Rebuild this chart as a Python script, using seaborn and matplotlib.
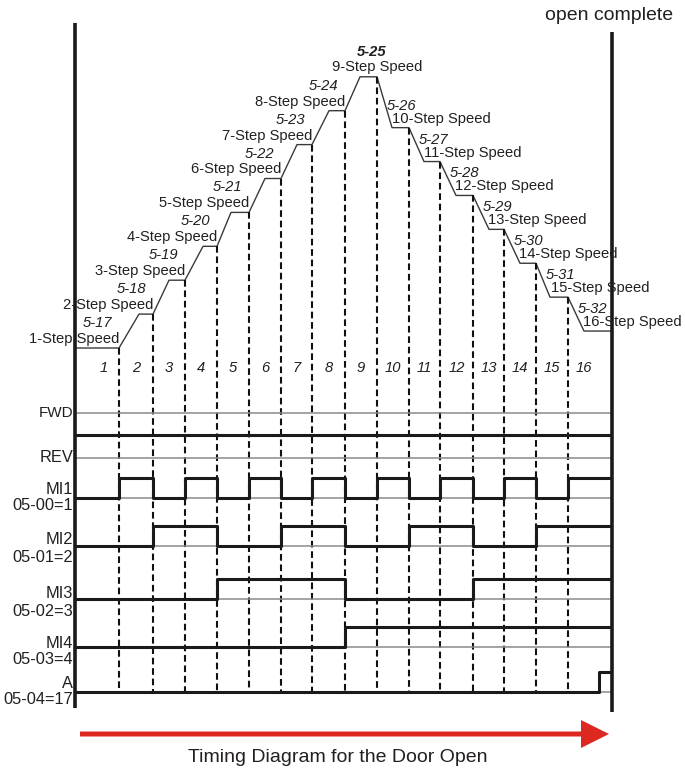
"""
Multi-step speed timing diagram (door open)
"""

import numpy as np
import pandas as pd
import matplotlib.pyplot as plt
import seaborn as sns
from matplotlib.patches import FancyArrow

# ============================================================================
# DATA
# ============================================================================

step_no = [1, 2, 3, 4, 5, 6, 7, 8, 9, 10, 11, 12, 13, 14, 15, 16]
step_time = [44, 34, 32, 32, 32, 32, 31, 33, 32, 32, 31, 33, 31, 32, 32, 44]
ramp_time = [0, 20, 16, 18, 14, 16, 16, 17, 15, 15, 15, 16, 16, 16, 14, 16]
step_speed = [1, 2, 3, 4, 5, 6, 7, 8, 9, 7.5, 6.5, 5.5, 4.5, 3.5, 2.5, 1.5]

param_codes = ['5-17', '5-18', '5-19', '5-20', '5-21', '5-22', '5-23', '5-24',
               '5-25', '5-26', '5-27', '5-28', '5-29', '5-30', '5-31', '5-32']
speed_names = ['1-Step Speed', '2-Step Speed', '3-Step Speed', '4-Step Speed',
               '5-Step Speed', '6-Step Speed', '7-Step Speed', '8-Step Speed',
               '9-Step Speed', '10-Step Speed', '11-Step Speed', '12-Step Speed',
               '13-Step Speed', '14-Step Speed', '15-Step Speed', '16-Step Speed']

mi1 = [0, 1, 0, 1, 0, 1, 0, 1, 0, 1, 0, 1, 0, 1, 0, 1]
mi2 = [0, 0, 1, 1, 0, 0, 1, 1, 0, 0, 1, 1, 0, 0, 1, 1]
mi3 = [0, 0, 0, 0, 1, 1, 1, 1, 0, 0, 0, 0, 1, 1, 1, 1]
mi4 = [0, 0, 0, 0, 0, 0, 0, 0, 1, 1, 1, 1, 1, 1, 1, 1]
a_time = [0, 524, 537]
a_state = [0, 1, 1]

row_names = ['MI1', 'MI2', 'MI3', 'MI4', 'A']
row_codes = ['05-00=1', '05-01=2', '05-02=3', '05-03=4', '05-04=17']

# ============================================================================
# LAYOUT
# ============================================================================

sns.set_theme(style='white')
plt.rcParams['font.family'] = ['Liberation Sans', 'DejaVu Sans']

TXT = '#231f20'
LINE = '#1a1a1a'
GREY = '#8a8a8a'
RED = '#dc2820'
FS = 10.6
FS_ROW = 11.8


def lvl(s):
    # speed value -> vertical position
    return 348 - (s - 1) * 33.9


bounds = np.concatenate([[0], np.cumsum(step_time)])
t_end = bounds[-1]

fig = plt.figure(figsize=(6.85, 7.68), dpi=100)
ax = fig.add_axes([75 / 685, 0, t_end / 685, 1])

# ---- speed profile ----
px, py = [0], [lvl(step_speed[0])]
for i in range(len(step_no)):
    y = lvl(step_speed[i])
    if i > 0:
        px.append(bounds[i] + ramp_time[i])
        py.append(y)
    px.append(bounds[i + 1])
    py.append(y)
prof = pd.DataFrame({'t': px, 'y': py})
sns.lineplot(data=prof, x='t', y='y', sort=False, estimator=None,
             color='#3a3a3a', lw=1.0, ax=ax)
ax.set_xlim(0, t_end)
ax.set_ylim(768, 0)
ax.axis('off')

# ---- dashed step borders ----
a_base = 692
for i in range(len(step_no) - 1):
    ax.plot([bounds[i + 1]] * 2, [lvl(step_speed[i]), a_base], color='#111111',
            lw=1.5, dashes=(3.2, 1.8), zorder=2)

# ---- speed labels ----
for i in range(len(step_no)):
    y = lvl(step_speed[i])
    st, en = bounds[i], bounds[i + 1]
    if i < 8:
        ax.text(en, y - 9, speed_names[i], ha='right', va='center', fontsize=FS, color=TXT)
        ax.text(en - 22, y - 25, param_codes[i], ha='center', va='center',
                fontsize=FS, style='italic', color=TXT)
    elif i == 8:
        ax.text(en, y - 10, speed_names[i], ha='center', va='center', fontsize=FS, color=TXT)
        ax.text(en - 5, y - 25, param_codes[i], ha='center', va='center',
                fontsize=FS, style='italic', weight='bold', color=TXT)
    else:
        ax.text(st + 15, y - 9, speed_names[i], ha='left', va='center', fontsize=FS, color=TXT)
        ax.text(st + 10, y - 22, param_codes[i], ha='left', va='center',
                fontsize=FS, style='italic', color=TXT)

# step numbers
for i, n in enumerate(step_no):
    if i == 0:
        xc = bounds[1] - 15
    elif i == len(step_no) - 1:
        xc = bounds[i] + 16
    else:
        xc = (bounds[i] + bounds[i + 1]) / 2
    ax.text(xc, 368, str(n), ha='center', va='center', fontsize=FS, style='italic', color=TXT)

# ---- signals ----
ax.hlines([413, 458], 0, t_end, color=GREY, lw=1.1)
ax.hlines(435, 0, t_end, color=LINE, lw=2.2)
ax.text(-2, 413, 'FWD', ha='right', va='center', fontsize=11, color=TXT)
ax.text(-2, 458, 'REV', ha='right', va='center', fontsize=FS_ROW, color=TXT)

bases = [498, 546, 599, 647, a_base]
name_y = [489, 540, 594, 643, 684]
code_y = [506, 557, 611, 659, 699]
amp = 20
for k, states in enumerate([mi1, mi2, mi3, mi4]):
    b = bases[k]
    ax.hlines(b, 0, t_end, color=GREY, lw=1.1)
    ys = [b - amp * v for v in states + [states[-1]]]
    ax.step(bounds, ys, where='post', color=LINE, lw=2.2, zorder=3)
ax.hlines(a_base, 0, t_end, color=GREY, lw=1.1)
ax.step(a_time, [a_base - amp * v for v in a_state], where='post', color=LINE, lw=2.2, zorder=3)

for k in range(len(row_names)):
    ax.text(-2, name_y[k], row_names[k], ha='right', va='center', fontsize=FS_ROW, color=TXT)
    ax.text(-2, code_y[k], row_codes[k], ha='right', va='center', fontsize=FS_ROW, color=TXT)

# ---- frame lines ----
ax.plot([0, 0], [23, 708], color=LINE, lw=2.6, solid_capstyle='butt', clip_on=False)
ax.plot([t_end, t_end], [32, 712], color=LINE, lw=2.6, solid_capstyle='butt', clip_on=False)
ax.text(t_end - 3, 16, 'open complete', ha='center', va='center', fontsize=14, color=TXT)

# ---- time arrow ----
ax.add_patch(FancyArrow(5, 734, 534 - 5, 0, width=5, head_width=28, head_length=28,
                        length_includes_head=True, color=RED, lw=0, clip_on=False))
ax.text(263, 758, 'Timing Diagram for the Door Open', ha='center', va='center',
        fontsize=14, color=TXT)

plt.savefig('out.png', dpi=100)
